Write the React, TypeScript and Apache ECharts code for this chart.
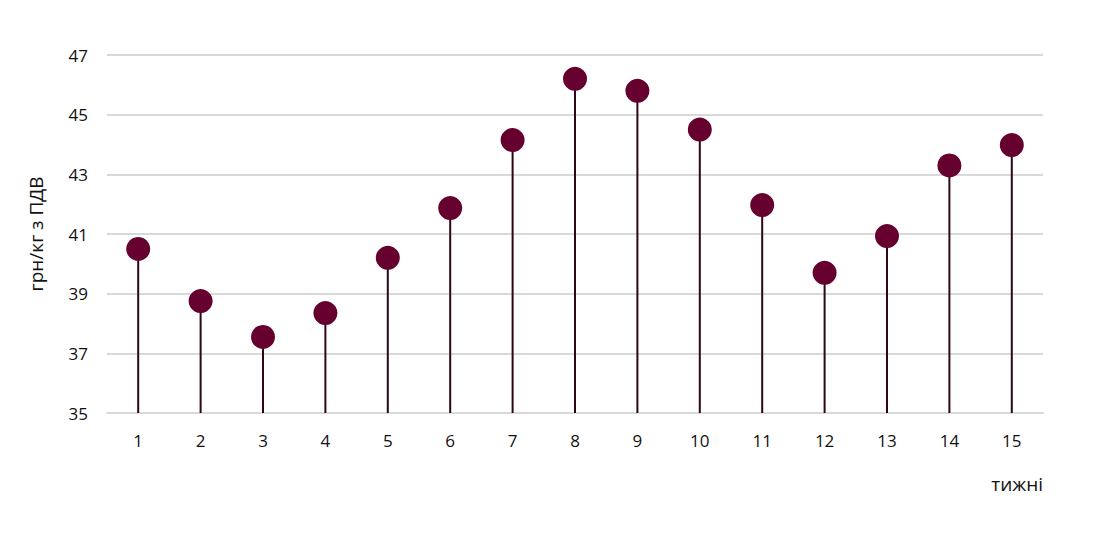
import React, { useEffect, useRef } from "react";
import * as echarts from "echarts";

const weeks = ["1", "2", "3", "4", "5", "6", "7", "8", "9", "10", "11", "12", "13", "14", "15"];
const prices = [40.5, 38.75, 37.55, 38.35, 40.2, 41.87, 44.15, 46.2, 45.8, 44.5, 41.97, 39.7, 40.93, 43.3, 43.98];
const yTicks = [35, 37, 39, 41, 43, 45, 47];
const yAxisTitle = "грн/кг з ПДВ";
const xAxisTitle = "тижні";

export default function App() {
  const ref = useRef<HTMLDivElement>(null);
  useEffect(() => {
    if (!ref.current) return;
    const chart = echarts.init(ref.current, undefined, { renderer: "svg" });
    const font = "'Open Sans', 'Noto Sans', sans-serif";
    chart.setOption({
      animation: false,
      grid: { left: 107, right: 72, top: 55, bottom: 126 },
      xAxis: {
        type: "category",
        data: weeks,
        boundaryGap: true,
        axisLine: { lineStyle: { color: "#d9d9d9", width: 2 } },
        axisTick: { show: false },
        axisLabel: { color: "#111", fontSize: 17, fontFamily: font, margin: 19 },
      },
      yAxis: {
        type: "value",
        min: yTicks[0],
        max: yTicks[yTicks.length - 1],
        interval: 2,
        name: yAxisTitle,
        nameLocation: "middle",
        nameGap: 62,
        nameTextStyle: { color: "#111", fontSize: 19, fontFamily: font },
        axisLine: { show: false },
        axisTick: { show: false },
        axisLabel: { color: "#111", fontSize: 17, fontFamily: font, margin: 19 },
        splitLine: { lineStyle: { color: "#d9d9d9", width: 2 } },
      },
      graphic: [
        {
          type: "text",
          right: 72,
          top: 474,
          style: { text: xAxisTitle, fill: "#111", fontSize: 19, fontFamily: font },
        },
      ],
      series: [
        {
          type: "bar",
          data: prices,
          barWidth: 2,
          itemStyle: { color: "#2e0618" },
          silent: true,
          z: 2,
        },
        {
          type: "scatter",
          data: prices,
          symbol: "circle",
          symbolSize: 24,
          itemStyle: { color: "#66002f", opacity: 1 },
          z: 3,
        },
      ],
    });
    return () => chart.dispose();
  }, []);
  return <div ref={ref} style={{ width: 1115, height: 539, position: "absolute", left: 0, top: 0 }} />;
}
